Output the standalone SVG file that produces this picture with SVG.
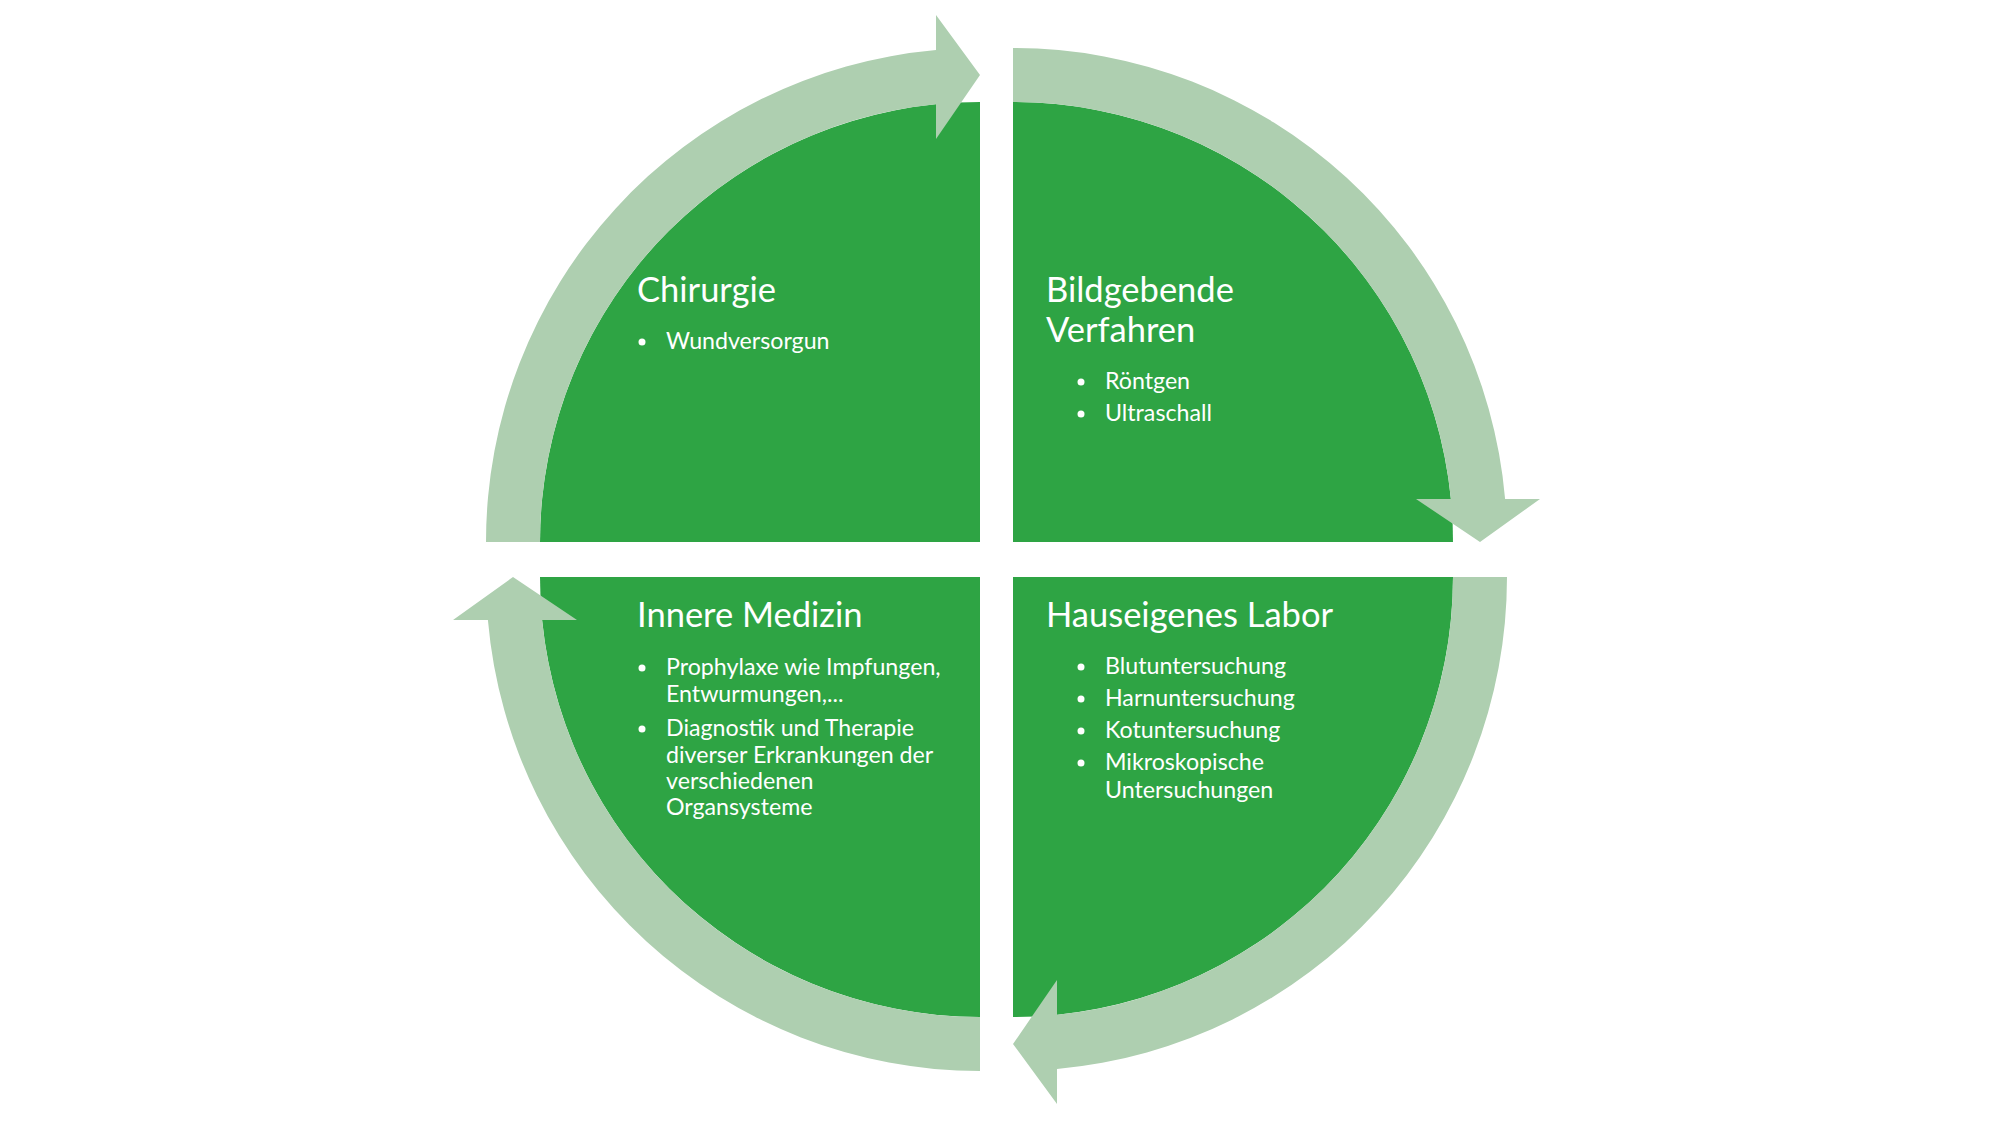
<svg xmlns="http://www.w3.org/2000/svg" width="2000" height="1125" viewBox="0 0 2000 1125">
<style>
.q{fill:#2ea444;}
.arr{fill:#aecfb0;}
.t{font-family:Lato,"Open Sans","Liberation Sans",sans-serif;fill:#ffffff;font-size:34.5px;}
.b{font-family:Lato,"Open Sans","Liberation Sans",sans-serif;fill:#ffffff;font-size:23.2px;}
.dot{fill:#ffffff;}
</style>
<rect width="2000" height="1125" fill="#ffffff"/>
<g id="chirurgie">
<path class="q" d="M 980,542 L 540,542 A 440 440 0 0 1 980,102 Z"/>
<text class="t" x="637" y="302">Chirurgie</text>
<circle class="dot" cx="642" cy="342" r="3.5"/>
<text class="b" x="666" y="349">Wundversorgun</text>
</g>
<g id="bildgebende">
<path class="q" d="M 1013,102 A 440 440 0 0 1 1453,542 L 1013,542 Z"/>
<text class="t" x="1046" y="302">Bildgebende</text>
<text class="t" x="1046" y="342">Verfahren</text>
<circle class="dot" cx="1081" cy="382" r="3.5"/>
<text class="b" x="1105" y="389">Röntgen</text>
<circle class="dot" cx="1081" cy="414" r="3.5"/>
<text class="b" x="1105" y="421">Ultraschall</text>
</g>
<g id="labor">
<path class="q" d="M 1013,577 L 1453,577 A 440 440 0 0 1 1013,1017 Z"/>
<text class="t" x="1046" y="627">Hauseigenes Labor</text>
<circle class="dot" cx="1081" cy="667" r="3.5"/>
<text class="b" x="1105" y="674">Blutuntersuchung</text>
<circle class="dot" cx="1081" cy="699" r="3.5"/>
<text class="b" x="1105" y="706">Harnuntersuchung</text>
<circle class="dot" cx="1081" cy="731" r="3.5"/>
<text class="b" x="1105" y="738">Kotuntersuchung</text>
<circle class="dot" cx="1081" cy="763" r="3.5"/>
<text class="b" x="1105" y="770">Mikroskopische</text>
<text class="b" x="1105" y="798">Untersuchungen</text>
</g>
<g id="innere">
<path class="q" d="M 980,577 L 980,1017 A 440 440 0 0 1 540,577 Z"/>
<text class="t" x="637" y="627">Innere Medizin</text>
<circle class="dot" cx="642" cy="668" r="3.5"/>
<text class="b" x="666" y="675">Prophylaxe wie Impfungen,</text>
<text class="b" x="666" y="702">Entwurmungen,...</text>
<circle class="dot" cx="642" cy="729" r="3.5"/>
<text class="b" x="666" y="736">Diagnostik und Therapie</text>
<text class="b" x="666" y="763">diverser Erkrankungen der</text>
<text class="b" x="666" y="789">verschiedenen</text>
<text class="b" x="666" y="815">Organsysteme</text>
</g>
<g id="connectors">
<path class="arr" d="M 486,542 A 494 494 0 0 1 936,50 L 936,15 L 980,75 L 936,139 L 936,104.2 A 440 440 0 0 0 540,542 Z"/>
<path class="arr" d="M 1013,48 A 494 494 0 0 1 1505.1,499 L 1540,499 L 1480,542 L 1416,499 L 1450.9,499 A 440 440 0 0 0 1013,102 Z"/>
<path class="arr" d="M 1507,577 A 494 494 0 0 1 1057,1069 L 1057,1104 L 1013,1044 L 1057,980 L 1057,1014.8 A 440 440 0 0 0 1453,577 Z"/>
<path class="arr" d="M 980,1071 A 494 494 0 0 1 487.9,620 L 453,620 L 513,577 L 577,620 L 542.1,620 A 440 440 0 0 0 980,1017 Z"/>
</g>
</svg>
